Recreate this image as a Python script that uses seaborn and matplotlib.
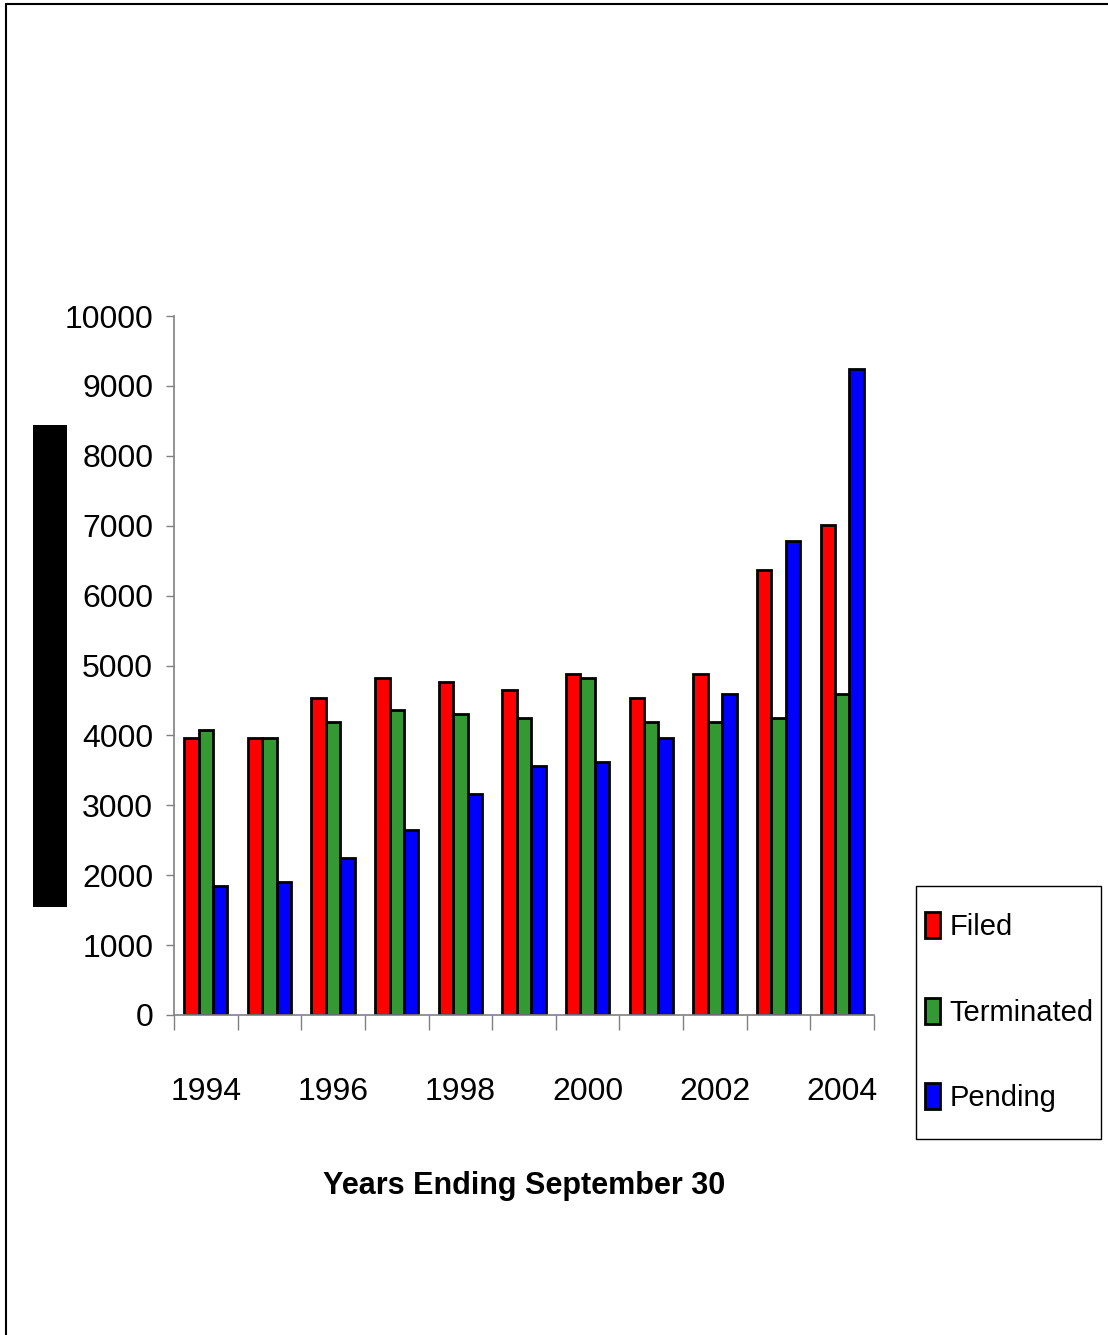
import matplotlib.pyplot as plt
import seaborn as sns
import pandas as pd
from matplotlib.patches import Rectangle
from matplotlib.lines import Line2D

sns.set_theme(style="white")
plt.rcParams['font.family'] = ['Liberation Sans', 'DejaVu Sans']
plt.rcParams['text.color'] = 'black'
plt.rcParams['axes.labelcolor'] = 'black'
plt.rcParams['xtick.color'] = 'black'
plt.rcParams['ytick.color'] = 'black'

# values (cases per year)
years = ['1994', '1995', '1996', '1997', '1998', '1999', '2000', '2001', '2002', '2003', '2004']
filed = [3960, 3960, 4530, 4820, 4760, 4650, 4880, 4530, 4880, 6370, 7010]
terminated = [4080, 3960, 4190, 4360, 4300, 4250, 4820, 4190, 4190, 4250, 4590]
pending = [1840, 1900, 2240, 2650, 3160, 3560, 3620, 3960, 4590, 6780, 9240]
series = ['Filed', 'Terminated', 'Pending']
colors = ['#ff0000', '#339933', '#0000ff']

df = pd.DataFrame({
    'year': years * 3,
    'cases': filed + terminated + pending,
    'series': [s for s in series for _ in years],
})

fig = plt.figure(figsize=(11.08, 13.35), dpi=100)
ax = fig.add_axes([174 / 1108, 1 - 1015 / 1335, 700 / 1108, 699 / 1335])

sns.barplot(data=df, x='year', y='cases', hue='series', palette=colors,
            saturation=1, width=0.68, edgecolor='black', linewidth=2, ax=ax)

ax.set_xlim(-0.5, 10.5)
ax.set_ylim(0, 10000)
ax.set_yticks(range(0, 10001, 1000))
ax.set_xticks(range(len(years)))
ax.set_xticklabels([y if i % 2 == 0 else '' for i, y in enumerate(years)])
ax.set_xticks([i - 0.5 for i in range(len(years) + 1)], minor=True)
ax.tick_params(axis='x', which='major', length=0, pad=45, labelsize=23)
ax.tick_params(axis='x', which='minor', bottom=True, length=11, width=1, color='#808080', direction='out')
ax.tick_params(axis='y', left=True, length=6, width=1, color='#808080', direction='out', pad=9, labelsize=23)
ax.set_xlabel('Years Ending September 30', fontsize=22, fontweight='bold', labelpad=46)
ax.set_ylabel('')

for side in ['top', 'right']:
    ax.spines[side].set_visible(False)
for side in ['left', 'bottom']:
    ax.spines[side].set_color('#808080')
    ax.spines[side].set_linewidth(1.2)

# legend: frame drawn separately so the padding can match
handles, labels = ax.get_legend_handles_labels()
ax.get_legend().remove()
fig.add_artist(Rectangle((916 / 1108, 1 - 1139 / 1335), 185 / 1108, 253 / 1335,
                         transform=fig.transFigure, facecolor='white', edgecolor='black', lw=1))
fig.legend(handles, labels, loc='upper left', bbox_to_anchor=(925 / 1108, 1 - 912 / 1335),
           fontsize=21, frameon=False, handlelength=0.5, handleheight=1.0,
           handletextpad=0.35, labelspacing=1.94, borderpad=0, borderaxespad=0)

# black block on the left where the y label sits
fig.add_artist(Rectangle((33 / 1108, 1 - 907 / 1335), 34 / 1108, 482 / 1335,
                         transform=fig.transFigure, facecolor='black', edgecolor='none'))
# outer page border (left and top)
fig.add_artist(Line2D([6 / 1108, 6 / 1108], [0, 1 - 4 / 1335], transform=fig.transFigure, color='black', lw=1.5))
fig.add_artist(Line2D([6 / 1108, 1], [1 - 4 / 1335, 1 - 4 / 1335], transform=fig.transFigure, color='black', lw=1.5))

fig.savefig('out.png', dpi=100)
